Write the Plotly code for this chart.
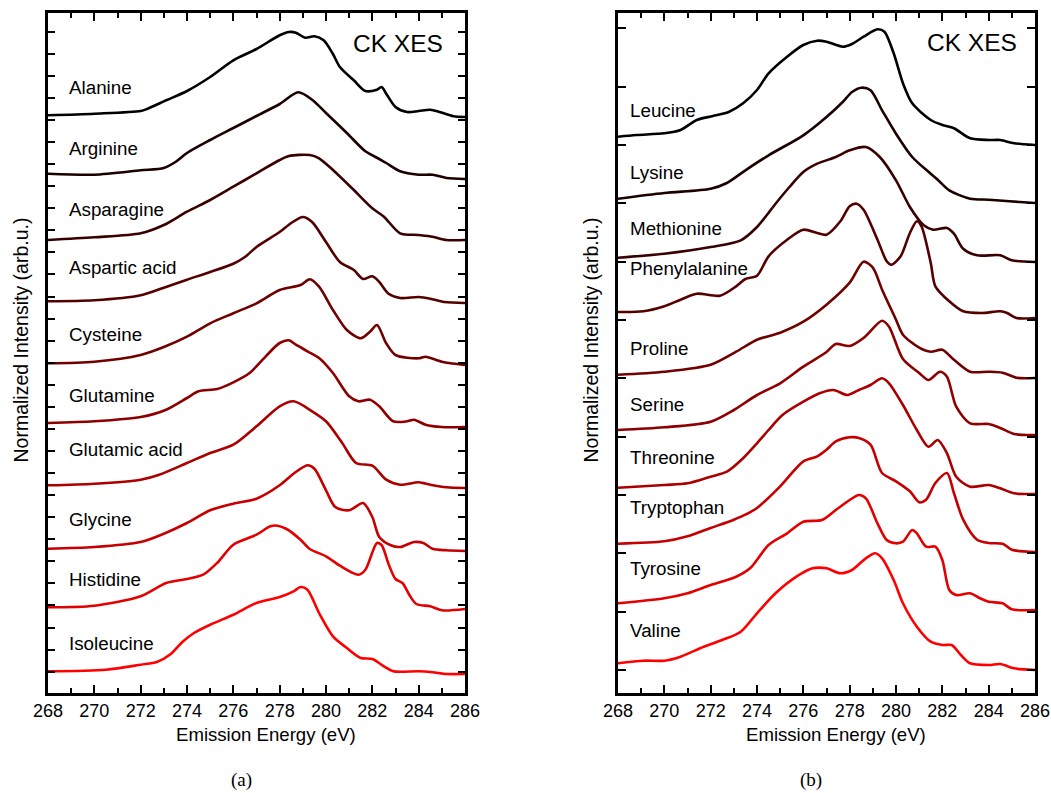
import plotly.graph_objects as go

# ---------------- Panel (a) data ----------------
LEFT_NAMES = ["Alanine", "Arginine", "Asparagine", "Aspartic acid", "Cysteine",
              "Glutamine", "Glutamic acid", "Glycine", "Histidine", "Isoleucine"]
LEFT_OFFSETS = [576, 514, 453, 390, 328, 266, 205, 142, 84, 19]
LEFT_LABEL_Y = [606, 545, 484, 426, 359, 298, 244, 174, 114, 50]

alanine_e = [268, 270, 272, 272.3, 273.1, 274, 275, 276, 277, 278, 278.4, 278.7, 279.1, 279.5, 279.9, 280.3, 280.6, 281.2, 281.7, 282.2, 282.4, 282.6, 283, 283.5, 284, 284.5, 284.9, 285.5, 286]
alanine_i = [1.7, 3.3, 6, 8.3, 16.7, 26, 40, 56.7, 68, 81.7, 85, 84.3, 79.3, 80.7, 76.7, 63, 50, 36.7, 26, 27.3, 30, 23.3, 10, 5, 6, 7.3, 5, 0.7, 0]

arginine_e = [268, 270, 272, 273, 273.5, 274, 275, 276, 277, 278, 278.8, 279.4, 280, 280.9, 281.7, 282.3, 282.6, 283.2, 284, 284.6, 285.2, 286]
arginine_i = [5.3, 4.3, 8.7, 11, 17, 26, 39, 51, 63, 75, 86.7, 79.3, 66, 46, 27.7, 20, 16, 7.7, 4.3, 4.3, 1, 0]

asparagine_e = [268, 270, 272, 273, 274, 275, 276, 277, 278, 278.4, 279.3, 279.7, 280.3, 281.2, 282, 282.5, 283.2, 284, 284.6, 285.2, 286]
asparagine_i = [0, 2.7, 6.7, 15, 28.3, 40, 53.3, 66.7, 80, 84, 85, 81.7, 70, 50, 31.7, 23.3, 6.7, 5, 3.3, 0, 0]

aspartic_e = [268, 270, 272, 273, 274, 275, 276, 276.5, 277, 278, 278.5, 279, 279.4, 280, 280.6, 281.2, 281.6, 282, 282.3, 282.7, 283.2, 284, 284.5, 285.1, 286]
aspartic_i = [1.7, 2.7, 7.7, 15.3, 23.3, 31, 39.3, 46, 56, 71, 80, 86, 81, 61, 41, 33, 24, 26.7, 21, 9.3, 5, 6, 4.3, 1, 0]

cysteine_e = [268, 270, 272, 273, 274, 275, 276, 277, 278, 278.9, 279.3, 279.7, 280.3, 280.9, 281.5, 281.9, 282.2, 282.6, 283, 284, 284.3, 285, 286]
cysteine_i = [1.7, 3.3, 10, 18, 28.3, 41.7, 51.7, 61.7, 75, 80, 85.7, 78.3, 55, 35, 26.7, 33.3, 40, 21.7, 10, 6.7, 8.3, 3.3, 0]

glutamine_e = [268, 270, 272, 273.1, 274, 274.5, 275.3, 276, 276.7, 277.4, 278, 278.4, 278.7, 279.2, 279.7, 280.3, 281, 281.4, 281.9, 282.3, 282.9, 283.5, 283.8, 284.3, 285, 286]
glutamine_i = [4, 5.7, 10, 17.3, 29, 35.7, 38, 44.7, 54, 70.7, 84, 86.7, 82.3, 75.7, 69, 54, 30.7, 25.7, 27.3, 20.7, 5.7, 5.7, 7.3, 2.3, 0, 0]

glutamic_e = [268, 270, 272, 272.8, 274, 275, 276, 277, 278, 278.6, 279.4, 280, 280.7, 281.3, 282, 282.6, 283.2, 284, 284.5, 285.2, 286]
glutamic_i = [2.7, 4.3, 8.3, 13.3, 25, 35, 43.3, 61.7, 81.7, 86.7, 76.7, 66.7, 45, 25, 22.3, 8.3, 3.3, 5.7, 3.3, 0.7, 0]

glycine_e = [268, 270, 272, 273, 274, 275, 276, 277, 278, 278.6, 279.2, 279.5, 280, 280.4, 281, 281.6, 282, 282.3, 282.8, 283.2, 283.8, 284.2, 284.6, 285.2, 286]
glycine_i = [2.3, 4, 9, 17.3, 28, 40.7, 47.3, 52.3, 65.7, 77.3, 85.7, 82.3, 60.7, 44, 40.7, 48, 34, 14, 5.7, 4, 9, 8, 2.3, 0.7, 0]

histidine_e = [268, 270, 272, 273.1, 274, 274.7, 275.3, 276, 277, 277.6, 277.9, 278.3, 278.9, 279.3, 280, 280.6, 281.4, 281.7, 282.2, 282.4, 282.7, 283, 283.3, 283.6, 283.9, 284.5, 285, 286]
histidine_i = [1.7, 3.3, 12.7, 26, 30, 34.3, 46, 64.3, 74.3, 82.7, 83.3, 80, 69.3, 60, 52.7, 43.3, 34.3, 39.3, 66, 64, 45, 30, 26, 14, 5, 2.7, -1.3, 0]

isoleucine_e = [268, 270.5, 272, 272.7, 273.3, 273.8, 274.3, 275, 276, 277, 278, 278.6, 278.9, 279.2, 279.7, 280.3, 280.9, 281.5, 282, 282.5, 282.9, 284, 284.6, 285.2, 286]
isoleucine_i = [2.7, 4.3, 9.3, 12, 20, 32, 41, 49.3, 59.3, 71, 77, 82.7, 87, 84.3, 61, 37.7, 26, 16, 15, 7.7, 2.7, 2.7, 1.7, 0, 0]

LEFT_E = [alanine_e, arginine_e, asparagine_e, aspartic_e, cysteine_e,
          glutamine_e, glutamic_e, glycine_e, histidine_e, isoleucine_e]
LEFT_I = [alanine_i, arginine_i, asparagine_i, aspartic_i, cysteine_i,
          glutamine_i, glutamic_i, glycine_i, histidine_i, isoleucine_i]

# ---------------- Panel (b) data ----------------
RIGHT_NAMES = ["Leucine", "Lysine", "Methionine", "Phenylalanine", "Proline",
               "Serine", "Threonine", "Tryptophan", "Tyrosine", "Valine"]
RIGHT_OFFSETS = [548, 490, 431, 375, 315, 258, 199, 141, 83, 23]
RIGHT_LABEL_Y = [583, 521, 465, 425, 345, 289, 236, 186, 125, 63]

leucine_e = [268, 268.8, 270, 270.7, 271.4, 272.1, 272.8, 273.4, 274, 274.5, 275.3, 276, 276.6, 277, 277.7, 278.1, 278.6, 279.2, 279.5, 279.9, 280.3, 280.7, 281.5, 282, 282.5, 283.2, 284, 284.5, 285.1, 286]
leucine_i = [8.3, 10, 11.7, 15, 25, 29, 33.3, 41.7, 55, 71.7, 88.3, 100, 104.3, 103.3, 98.3, 101, 108.3, 115.7, 113.3, 91.7, 61.7, 41.7, 25, 20, 16.7, 6.7, 5, 5, 1.7, 0]

lysine_e = [268, 270, 272, 272.7, 273.5, 274.5, 276, 277, 277.7, 278.1, 278.5, 278.9, 279.4, 280, 280.7, 281.5, 281.8, 282.3, 283.2, 284, 284.9, 286]
lysine_i = [4.3, 10, 14.3, 20, 32.7, 47.7, 67.7, 86, 101, 111, 115.3, 112.7, 92.7, 69.3, 46, 29.3, 23.3, 12.7, 4.3, 3.3, 1.7, 0]

methionine_e = [268, 270, 272, 273.3, 274, 274.8, 275.4, 276, 276.6, 277.4, 278, 278.7, 279.3, 280, 280.6, 281.2, 281.6, 282.2, 282.5, 282.9, 283.5, 284.5, 285, 286]
methionine_i = [4.3, 8.3, 15, 21.7, 35, 58.3, 75, 90, 98.3, 105, 111.7, 115, 105, 81.7, 55, 36.7, 32.3, 34, 28.3, 13.3, 6.7, 6.7, 1.7, 0]

phenylalanine_e = [268, 269.1, 270, 270.7, 271.4, 272.4, 273.1, 273.5, 274, 274.5, 275.3, 276, 276.6, 277, 277.6, 278, 278.3, 278.6, 279.2, 279.6, 279.8, 280.2, 280.6, 280.9, 281.1, 281.5, 281.7, 282.3, 282.9, 283.7, 284.5, 284.8, 285.2, 286]
phenylalanine_i = [6, 6.7, 11.7, 18.3, 24.3, 22.3, 31.7, 39, 42.3, 61.7, 78.3, 88.3, 85, 83.3, 96.7, 111.7, 114.3, 108.3, 78.3, 56.7, 53.3, 61.7, 85, 96.7, 91.7, 55, 31.7, 16.7, 6.7, 5, 6.7, 5, 0, 0]

proline_e = [268, 270, 272, 273.1, 274, 275, 276, 277, 278, 278.6, 279, 279.4, 280, 280.3, 281, 281.5, 282, 282.5, 283.2, 284, 284.6, 285.2, 286]
proline_i = [3.3, 6.3, 13.3, 26.3, 38.3, 45.3, 56.3, 73.3, 95.3, 116.3, 110.3, 88.3, 58.3, 43.3, 30.3, 26.3, 28.3, 18.3, 6.3, 6.3, 5.3, 0.3, 0]

serine_e = [268, 270, 272, 273, 274, 275, 276, 277, 277.4, 278, 278.6, 279.4, 279.7, 280.3, 281, 281.4, 281.9, 282.2, 282.6, 283.2, 284, 284.5, 285.1, 286]
serine_i = [5, 7.7, 13.3, 25, 40, 51.7, 68.3, 83, 91, 89, 97, 114.3, 108.3, 76, 62, 55, 63.3, 58.3, 28.3, 11.7, 11, 7, 1, 0]

threonine_e = [268, 270, 271, 272, 272.7, 273.4, 274, 274.5, 275.1, 276, 276.7, 277.3, 277.9, 278.4, 278.9, 279.4, 279.7, 280.3, 280.9, 281.4, 281.8, 282.2, 282.6, 283.2, 284, 284.5, 285.1, 286]
threonine_i = [6.3, 9, 10.7, 17.3, 22.3, 35.7, 50.7, 64, 79, 92.3, 100.7, 104, 99, 104, 109, 115.7, 110.7, 89, 64, 47.3, 54, 40.7, 17.3, 7.3, 9, 5.7, 0.7, 0]

tryptophan_e = [268, 270, 271, 272, 273, 273.5, 274, 275, 276, 276.6, 277, 277.4, 278, 278.4, 278.9, 279.4, 280, 280.6, 281, 281.3, 281.7, 282.2, 282.5, 282.9, 283.5, 284, 284.6, 285, 286]
tryptophan_i = [8.3, 10.7, 15.7, 24, 32.3, 37.3, 44, 65.7, 90.7, 95.7, 102.3, 110.7, 114.7, 114, 107.3, 79, 70.7, 60.7, 49.7, 52.3, 69, 79, 59, 32.3, 12.3, 9, 8.3, 2.3, 0]

tyrosine_e = [268, 270, 271, 272, 273.1, 273.7, 274.5, 275.3, 276, 276.8, 277.4, 278, 278.4, 278.7, 279.2, 279.6, 280, 280.3, 280.7, 280.9, 281.3, 281.7, 282, 282.3, 282.6, 283.2, 283.6, 284, 284.6, 285, 286]
tyrosine_i = [6.7, 11.7, 16.7, 25, 33.3, 41.7, 65, 76.7, 88.3, 90, 100, 110, 115, 111.7, 86.7, 70, 66.7, 68.3, 80, 76.7, 63.3, 63.3, 50, 20, 15, 16.7, 12, 8.3, 6.7, 0.7, 0]

valine_e = [268, 269.1, 270, 270.7, 271.7, 272.5, 273.3, 274, 274.8, 275.7, 276.4, 277, 277.6, 278.1, 278.7, 279.1, 279.4, 279.9, 280.3, 280.9, 281.5, 282, 282.4, 282.8, 283.2, 284, 284.5, 285.1, 286]
valine_i = [6.7, 9.3, 9.3, 13.3, 23.3, 30, 38.3, 56.7, 76.7, 93.3, 101.7, 101.7, 96.7, 100, 111.7, 116.7, 111.7, 90, 66.7, 43.3, 28.3, 25, 25, 15, 6.7, 5, 6, 1.7, 0]

RIGHT_E = [leucine_e, lysine_e, methionine_e, phenylalanine_e, proline_e,
           serine_e, threonine_e, tryptophan_e, tyrosine_e, valine_e]
RIGHT_I = [leucine_i, lysine_i, methionine_i, phenylalanine_i, proline_i,
           serine_i, threonine_i, tryptophan_i, tyrosine_i, valine_i]

X_TICKS = [268, 270, 272, 274, 276, 278, 280, 282, 284, 286]

# ---------------- Figure ----------------
W, H = 1051, 793
FONT = "Liberation Sans, Arial, Helvetica, sans-serif"

def shade(i, n):
    return "rgb(%d,0,0)" % round(255 * i / (n - 1))

fig = go.Figure()

for k, (e, inten, off) in enumerate(zip(LEFT_E, LEFT_I, LEFT_OFFSETS)):
    fig.add_trace(go.Scatter(x=e, y=[off + v for v in inten], mode="lines",
                             line=dict(color=shade(k, len(LEFT_E)), width=2.6,
                                       shape="spline", smoothing=0.8),
                             xaxis="x", yaxis="y", showlegend=False,
                             name=LEFT_NAMES[k]))
for k, (e, inten, off) in enumerate(zip(RIGHT_E, RIGHT_I, RIGHT_OFFSETS)):
    fig.add_trace(go.Scatter(x=e, y=[off + v for v in inten], mode="lines",
                             line=dict(color=shade(k, len(RIGHT_E)), width=2.6,
                                       shape="spline", smoothing=0.8),
                             xaxis="x2", yaxis="y2", showlegend=False,
                             name=RIGHT_NAMES[k]))

ydom = [(H - 693) / H, (H - 13) / H]
xdom1 = [48 / W, 465 / W]
xdom2 = [618 / W, 1035 / W]

def xaxis_cfg(dom, anchor):
    return dict(domain=dom, anchor=anchor, range=[268, 286], automargin=False,
                tickmode="array", tickvals=X_TICKS,
                ticktext=[str(t) for t in X_TICKS],
                ticks="inside", ticklen=8, tickwidth=2, tickcolor="black",
                minor=dict(tickmode="linear", tick0=268, dtick=1, ticks="inside",
                           ticklen=5, tickwidth=2, tickcolor="black"),
                showline=True, linewidth=2.5, linecolor="black", mirror="ticks",
                showgrid=False, zeroline=False,
                tickfont=dict(family=FONT, size=18, color="black"))

def yaxis_cfg(anchor, tick0, dtick, tlen):
    return dict(domain=ydom, anchor=anchor, range=[0, 680], automargin=False,
                tickmode="linear", tick0=tick0, dtick=dtick,
                ticks="inside", ticklen=tlen, tickwidth=2, tickcolor="black",
                showticklabels=False,
                showline=True, linewidth=2.5, linecolor="black", mirror="ticks",
                showgrid=False, zeroline=False)

annotations = []
for name, y in zip(LEFT_NAMES, LEFT_LABEL_Y):
    annotations.append(dict(x=268.8, y=y, xref="x", yref="y", text=name,
                            showarrow=False, xanchor="left", yanchor="middle",
                            font=dict(family=FONT, size=18.8, color="black")))
for name, y in zip(RIGHT_NAMES, RIGHT_LABEL_Y):
    annotations.append(dict(x=268.43, y=y, xref="x2", yref="y2", text=name,
                            showarrow=False, xanchor="left", yanchor="middle",
                            font=dict(family=FONT, size=18.8, color="black")))
annotations.append(dict(x=283.1, y=650, xref="x", yref="y", text="CK XES",
                        showarrow=False, xanchor="center", yanchor="middle",
                        font=dict(family=FONT, size=24.5, color="black")))
annotations.append(dict(x=283.3, y=651, xref="x2", yref="y2", text="CK XES",
                        showarrow=False, xanchor="center", yanchor="middle",
                        font=dict(family=FONT, size=24.5, color="black")))
for cx in (266, 836):
    annotations.append(dict(x=cx / W, y=(H - 734) / H, xref="paper", yref="paper",
                            text="Emission Energy (eV)", showarrow=False,
                            xanchor="center", yanchor="middle",
                            font=dict(family=FONT, size=18.6, color="black")))
for cx in (20.5, 590.5):
    annotations.append(dict(x=cx / W, y=(H - 340) / H, xref="paper", yref="paper",
                            text="Normalized Intensity (arb.u.)", showarrow=False,
                            textangle=-90, xanchor="center", yanchor="middle",
                            font=dict(family=FONT, size=19.5, color="black")))
for cx, lab in ((241, "(a)"), (811, "(b)")):
    annotations.append(dict(x=cx / W, y=(H - 780) / H, xref="paper", yref="paper",
                            text=lab, showarrow=False,
                            xanchor="center", yanchor="middle",
                            font=dict(family="Liberation Serif, Times New Roman, serif",
                                      size=19, color="black")))

fig.update_layout(
    template="none",
    width=W, height=H, autosize=False,
    margin=dict(l=0, r=0, t=0, b=0, pad=0, autoexpand=False),
    paper_bgcolor="white", plot_bgcolor="white",
    xaxis=xaxis_cfg(xdom1, "y"),
    yaxis=yaxis_cfg("x", 21.3, 22.07, 7),
    xaxis2=xaxis_cfg(xdom2, "y2"),
    yaxis2=yaxis_cfg("x2", 23, 58.35, 8),
    annotations=annotations,
    font=dict(family=FONT, color="black"),
)

POST = (
    "document.documentElement.style.margin='0';"
    "document.documentElement.style.overflow='hidden';"
    "document.body.style.margin='0';document.body.style.padding='0';"
    "document.body.style.overflow='hidden';"
)
fig.write_html("out.html", config={"displayModeBar": False}, post_script=POST)
